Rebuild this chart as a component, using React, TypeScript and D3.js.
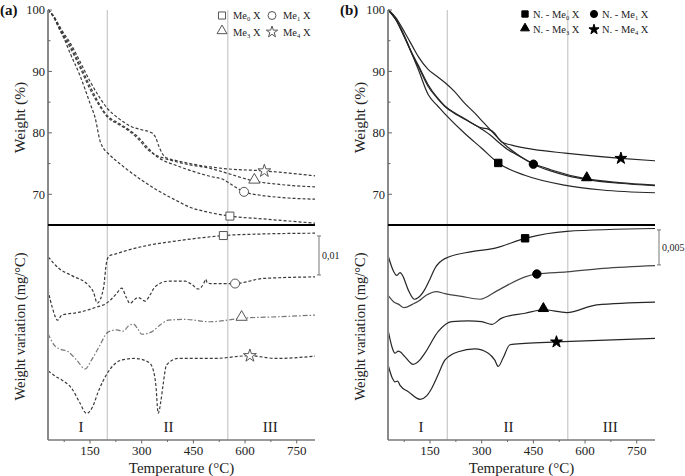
import React from 'react';
import * as d3 from 'd3';

type Pt = [number, number];

// ---------- axes / labels ----------
const tempTicks = [150, 300, 450, 600, 750];
const tempMinorTicks = [75, 225, 375, 525, 675];
const weightTicks = [70, 80, 90, 100];
const weightMinorTicks = [75, 85, 95];
const regionBounds = [200, 550];
const regionLabels = ['I', 'II', 'III'];
const regionLabelTemps = [124, 378, 673];
const tempDomain: Pt = [28, 803];
const weightDomain: Pt = [65, 100];
// DTG curves are shifted for clarity, in 10^-3 mg/°C
const dtgDomainA: Pt = [-55.1, 0];
const dtgDomainB: Pt = [-30.7, 0];
const scaleBarA: Pt = [-12.8, -2.8]; // 0,01 mg/°C
const scaleBarB: Pt = [-5.7, -0.7]; // 0,005 mg/°C

// ---------- panel (a): TG, weight % ----------
const tgA_Me0: Pt[] = [[28,100],[45,98.8],[60,97],[75,95.3],[92,93],[121,89.3],[150,84.8],[165,82.4],[179,78.7],[190,77.4],[200,76.8],[247,74.5],[300,72.3],[344,70.7],[400,69.0],[440,67.9],[500,67.0],[556,66.45],[650,66.0],[803,65.3]];
const tgA_Me1: Pt[] = [[28,100],[45,98.9],[60,97.3],[75,95.8],[92,94.3],[121,91.0],[150,87.6],[175,84.9],[200,82.8],[232,81.6],[261,80.6],[290,79.3],[319,77.5],[340,76.3],[363,75.5],[400,74.7],[440,73.9],[500,72.9],[537,72.4],[560,71.6],[597,70.4],[650,69.8],[700,69.5],[803,69.2]];
const tgA_Me3: Pt[] = [[28,100],[45,98.8],[60,97.1],[75,95.5],[92,93.9],[121,90.6],[150,87.1],[175,84.6],[200,82.6],[232,81.4],[261,80.4],[290,79.0],[319,77.2],[340,76.4],[363,75.9],[400,75.3],[440,74.8],[500,74.2],[550,73.4],[627,72.15],[700,71.6],[803,71.2]];
const tgA_Me4: Pt[] = [[28,100],[45,99],[60,97.5],[75,96.1],[92,94.7],[121,91.6],[150,88.4],[175,86.0],[200,84.0],[232,82.4],[271,81.0],[300,80.5],[329,80.0],[340,79.3],[350,77.8],[360,76.6],[370,76.0],[400,75.5],[440,75.0],[537,74.2],[656,73.8],[803,73.0]];

// ---------- panel (a): DTG ----------
const dtgA_Me0: Pt[] = [[29,-8.2],[58,-11.0],[100,-13.1],[145,-15.4],[160,-17.2],[171,-20.0],[189,-16.2],[198,-9.5],[206,-7.9],[225,-7.4],[250,-6.7],[325,-5.1],[400,-4.1],[470,-3.3],[537,-2.7],[650,-2.3],[803,-2.1]];
const dtgA_Me1: Pt[] = [[28,-16.7],[40,-21],[56,-24.4],[68,-23.1],[116,-22.4],[160,-21.3],[203,-19.7],[225,-17.8],[242,-16.2],[255,-18.5],[266,-20.1],[280,-19.0],[290,-18.6],[310,-19.5],[325,-17.8],[339,-15.8],[377,-14.4],[426,-14.4],[445,-15.2],[464,-16.4],[480,-15.0],[486,-13.9],[490,-14.8],[500,-15.0],[571,-15.0],[653,-13.7],[803,-13.3]];
const dtgA_Me3: Pt[] = [[28,-27.8],[48,-31.0],[63,-31.8],[87,-32.5],[110,-34.5],[136,-36.9],[155,-34.5],[174,-31.6],[203,-27.4],[227,-26.9],[247,-27.2],[262,-25.8],[276,-25.4],[290,-26.8],[300,-28.0],[329,-27.4],[355,-25.5],[377,-24.4],[426,-24.2],[498,-24.8],[590,-23.9],[700,-23.5],[803,-23.1]];
const dtgA_Me4: Pt[] = [[29,-37.4],[50,-38.8],[68,-39.7],[97,-41.9],[120,-45.5],[140,-48.3],[158,-46.5],[174,-42.7],[203,-37.6],[242,-34.6],[280,-34.2],[319,-35.1],[333,-37],[341,-41],[348,-48.3],[355,-45.5],[362,-41],[372,-35.9],[406,-34.2],[508,-34.2],[614,-33.5],[690,-34.2],[803,-33.6]];

// ---------- panel (b): TG ----------
const tgB_Me0: Pt[] = [[29,100],[50,98.6],[77,95.6],[100,92.5],[116,90.3],[145,86.2],[170,84.5],[193,83.1],[251,79.9],[300,77.5],[348,75.1],[425,73.1],[540,71.5],[650,70.7],[803,70.25]];
const tgB_Me1: Pt[] = [[29,100],[50,98.8],[77,96.3],[100,94.0],[116,92.4],[145,90.3],[170,89.2],[193,88.2],[220,86.8],[251,84.8],[280,83.2],[300,82.0],[325,80.5],[348,79.1],[375,77.7],[406,76.4],[450,74.9],[500,73.8],[550,73.0],[605,72.4],[700,71.8],[803,71.4]];
const tgB_Me3: Pt[] = [[29,100],[50,98.5],[77,95.4],[100,92.6],[116,90.8],[145,87.5],[170,85.7],[193,84.3],[220,83.2],[251,82.2],[300,80.6],[330,79.4],[348,78.5],[375,77.3],[400,76.5],[450,75.0],[500,74.0],[605,72.5],[700,71.9],[803,71.5]];
const tgB_Me4: Pt[] = [[29,100],[50,98.5],[77,95.5],[100,92.7],[116,91.0],[145,87.8],[170,85.8],[193,84.4],[220,83.3],[251,82.3],[300,80.8],[319,80.6],[338,79.9],[350,79.0],[358,78.5],[387,78.0],[450,77.3],[542,76.7],[704,75.85],[803,75.45]];

// ---------- panel (b): DTG ----------
const dtgB_Me0: Pt[] = [[29,-4.5],[44,-6.6],[53,-7.2],[63,-6.8],[70,-7.2],[87,-9.3],[105,-10.6],[115,-10.4],[135,-9.2],[150,-7.7],[164,-6.2],[193,-4.8],[271,-3.8],[339,-3.3],[426,-1.9],[547,-0.9],[803,-0.5]];
const dtgB_Me1: Pt[] = [[29,-10.1],[45,-11.0],[58,-11.3],[75,-11.8],[100,-11.3],[116,-10.9],[140,-10.0],[168,-9.5],[193,-9.8],[242,-10.2],[295,-10.6],[348,-9.3],[426,-7.4],[460,-7.0],[547,-6.7],[653,-6.2],[803,-5.8]];
const dtgB_Me3: Pt[] = [[29,-15.2],[40,-17.5],[48,-18.3],[58,-18.0],[63,-18.1],[77,-18.8],[101,-19.9],[120,-19.3],[135,-18.3],[174,-15.2],[213,-13.8],[261,-13.7],[300,-13.8],[329,-14.2],[358,-13.3],[426,-12.6],[479,-12.1],[547,-12.5],[634,-11.4],[803,-11.0]];
const dtgB_Me4: Pt[] = [[29,-20.1],[40,-21.8],[48,-22.4],[56,-22.3],[63,-22.9],[87,-23.8],[121,-24.9],[140,-24.4],[155,-23.3],[175,-21.2],[193,-19.3],[232,-18.1],[280,-17.7],[319,-18.3],[338,-19.3],[348,-20.2],[362,-19.0],[382,-17.1],[426,-16.9],[517,-16.7],[803,-16.2]];

// marker temperatures
const markerA_TG = [556, 597, 627, 656];
const markerA_DTG = [537, 571, 590, 614];
const markerB_TG = [348, 450, 605, 704];
const markerB_DTG = [426, 460, 479, 517];

const seriesSubs = ['0', '1', '3', '4'];
const symbols = [d3.symbolSquare, d3.symbolCircle, d3.symbolTriangle, d3.symbolStar];

const FONT = "'Liberation Serif', 'DejaVu Serif', serif";
const txt = { fontFamily: FONT } as React.CSSProperties;

function interp(data: Pt[], t: number): number {
  for (let i = 0; i < data.length - 1; i++) {
    const [t0, v0] = data[i];
    const [t1, v1] = data[i + 1];
    if (t >= t0 && t <= t1) return v0 + ((t - t0) / (t1 - t0)) * (v1 - v0);
  }
  return data[data.length - 1][1];
}

type PanelProps = {
  x0: number;
  tag: string;
  tg: Pt[][];
  dtg: Pt[][];
  dtgDomain: Pt;
  mTG: number[];
  mDTG: number[];
  filled: boolean;
  prefix: string;
  legendDx: number[];
  legendDy: number[];
  legendTextDx: number;
  scaleBar: Pt;
  scaleLabel: string;
};

const TOP = 10;
const SPLIT = 225;
const BOTTOM = 440;
const PW = 267;

function Panel(p: PanelProps) {
  const x = d3.scaleLinear().domain(tempDomain).range([p.x0, p.x0 + PW]);
  const yTG = d3.scaleLinear().domain(weightDomain).range([SPLIT, TOP]);
  const yD = d3.scaleLinear().domain(p.dtgDomain).range([BOTTOM, SPLIT]);
  const lineTG = d3.line<Pt>().x(d => x(d[0])).y(d => yTG(d[1])).curve(d3.curveMonotoneX);
  const lineD = d3.line<Pt>().x(d => x(d[0])).y(d => yD(d[1])).curve(d3.curveMonotoneX);
  const x1 = p.x0 + PW;

  const stroke = p.filled ? '#262626' : '#3a3a3a';
  const dashFor = (i: number, isDTG: boolean) => {
    if (p.filled) return undefined;
    if (isDTG && i === 2) return '5 2 1.5 2';
    return '3 2';
  };
  const colorFor = (i: number, isDTG: boolean) => {
    if (!p.filled && isDTG && i === 2) return '#777';
    if (p.filled && isDTG && i === 1) return '#444';
    return stroke;
  };

  const marker = (i: number, cx: number, cy: number, key: string, size: number) => {
    const sizes = [size, size * 1.0, size * 0.85, size * 0.8];
    const path = d3.symbol().type(symbols[i]).size(sizes[i])() as string;
    const dy = i === 2 ? -1.2 : 0;
    return (
      <path
        key={key}
        d={path}
        transform={`translate(${cx},${cy + dy})`}
        fill={p.filled ? '#000' : '#fff'}
        stroke={p.filled ? '#000' : '#555'}
        strokeWidth={1}
      />
    );
  };

  return (
    <g>
      {regionBounds.map(t => (
        <line key={`rb${t}`} x1={x(t)} x2={x(t)} y1={TOP} y2={BOTTOM} stroke="#bdbdbd" strokeWidth={1} />
      ))}
      {p.tg.map((s, i) => (
        <path key={`tg${i}`} d={lineTG(s) as string} fill="none" stroke={colorFor(i, false)} strokeWidth={1.2} strokeDasharray={dashFor(i, false)} />
      ))}
      {p.dtg.map((s, i) => (
        <path key={`dtg${i}`} d={lineD(s) as string} fill="none" stroke={colorFor(i, true)} strokeWidth={1.2} strokeDasharray={dashFor(i, true)} />
      ))}
      {p.mTG.map((t, i) => marker(i, x(t), yTG(interp(p.tg[i], t)), `mt${i}`, p.filled ? 55 : 64))}
      {p.mDTG.map((t, i) => marker(i, x(t), yD(interp(p.dtg[i], t)), `md${i}`, p.filled ? 55 : 64))}

      <line x1={p.x0} x2={p.x0} y1={TOP} y2={BOTTOM} stroke="#8a8a8a" strokeWidth={2} />
      <line x1={p.x0} x2={x1} y1={BOTTOM} y2={BOTTOM} stroke="#7a7a7a" strokeWidth={1.5} />
      <line x1={p.x0} x2={x1} y1={SPLIT} y2={SPLIT} stroke="#000" strokeWidth={2} />

      {weightTicks.map(v => (
        <g key={`wt${v}`}>
          <line x1={p.x0} x2={p.x0 + 4} y1={yTG(v)} y2={yTG(v)} stroke="#666" strokeWidth={1} />
          <text x={p.x0 - 3} y={yTG(v)} dy="0.35em" textAnchor="end" fontSize={12.5} style={txt} fill="#222">{v}</text>
        </g>
      ))}
      {weightMinorTicks.map(v => (
        <line key={`wm${v}`} x1={p.x0} x2={p.x0 + 2.5} y1={yTG(v)} y2={yTG(v)} stroke="#666" strokeWidth={1} />
      ))}
      {tempTicks.map(t => (
        <g key={`tt${t}`}>
          <line x1={x(t)} x2={x(t)} y1={BOTTOM} y2={BOTTOM + 3.5} stroke="#666" strokeWidth={1} />
          <text x={x(t)} y={455} textAnchor="middle" fontSize={13} style={txt} fill="#222">{t}</text>
        </g>
      ))}
      {tempMinorTicks.map(t => (
        <line key={`tm${t}`} x1={x(t)} x2={x(t)} y1={BOTTOM} y2={BOTTOM + 2} stroke="#666" strokeWidth={1} />
      ))}

      {regionLabels.map((l, i) => (
        <text key={`rl${l}`} x={x(regionLabelTemps[i])} y={432} textAnchor="middle" fontSize={15} style={txt} fill="#222">{l}</text>
      ))}

      <text x={p.x0 + PW / 2} y={473} textAnchor="middle" fontSize={15} style={txt} fill="#222">Temperature (°C)</text>
      <text transform={`translate(${p.x0 - 23},${(TOP + SPLIT) / 2}) rotate(-90)`} textAnchor="middle" fontSize={15.5} style={txt} fill="#222">Weight (%)</text>
      <text transform={`translate(${p.x0 - 23},${(SPLIT + BOTTOM) / 2 - 6}) rotate(-90)`} textAnchor="middle" fontSize={14.5} style={txt} fill="#222">Weight variation (mg/°C)</text>
      <text x={p.x0 - 48} y={15} fontSize={15} fontWeight="bold" style={txt} fill="#111">{p.tag}</text>

      <g stroke="#777" strokeWidth={1}>
        <line x1={x1 + 4} x2={x1 + 4} y1={yD(p.scaleBar[0])} y2={yD(p.scaleBar[1])} />
        <line x1={x1 + 2} x2={x1 + 6} y1={yD(p.scaleBar[0])} y2={yD(p.scaleBar[0])} />
        <line x1={x1 + 2} x2={x1 + 6} y1={yD(p.scaleBar[1])} y2={yD(p.scaleBar[1])} />
      </g>
      <text x={x1 + 7} y={(yD(p.scaleBar[0]) + yD(p.scaleBar[1])) / 2} dy="0.35em" fontSize={10} style={txt} fill="#222">{p.scaleLabel}</text>

      {seriesSubs.map((sub, i) => {
        const col = i % 2;
        const row = Math.floor(i / 2);
        const sx = x1 + p.legendDx[col];
        const sy = p.legendDy[row];
        return (
          <g key={`lg${i}`}>
            {marker(i, sx, sy, `lgm${i}`, p.filled ? 40 : 50)}
            <text x={sx + p.legendTextDx} y={sy} dy="0.35em" fontSize={10.5} style={txt} fill="#222">
              {p.prefix}Me
              <tspan fontSize={6.5} dy="2">{sub}</tspan>
              <tspan dy="-2"> X</tspan>
            </text>
          </g>
        );
      })}
    </g>
  );
}

export default function App() {
  return (
    <svg width={685} height={476} style={{ position: 'absolute', left: 0, top: 0, background: '#fff' }}>
      <rect x={0} y={0} width={685} height={476} fill="#fff" />
      <Panel
        x0={48}
        tag="(a)"
        tg={[tgA_Me0, tgA_Me1, tgA_Me3, tgA_Me4]}
        dtg={[dtgA_Me0, dtgA_Me1, dtgA_Me3, dtgA_Me4]}
        dtgDomain={dtgDomainA}
        mTG={markerA_TG}
        mDTG={markerA_DTG}
        filled={false}
        prefix=""
        legendDx={[-93, -43]}
        legendDy={[15.5, 32]}
        legendTextDx={11}
        scaleBar={scaleBarA}
        scaleLabel="0,01"
      />
      <Panel
        x0={388}
        tag="(b)"
        tg={[tgB_Me0, tgB_Me1, tgB_Me3, tgB_Me4]}
        dtg={[dtgB_Me0, dtgB_Me1, dtgB_Me3, dtgB_Me4]}
        dtgDomain={dtgDomainB}
        mTG={markerB_TG}
        mDTG={markerB_DTG}
        filled={true}
        prefix="N. - "
        legendDx={[-130, -61]}
        legendDy={[14, 29.5]}
        legendTextDx={8}
        scaleBar={scaleBarB}
        scaleLabel="0,005"
      />
    </svg>
  );
}
